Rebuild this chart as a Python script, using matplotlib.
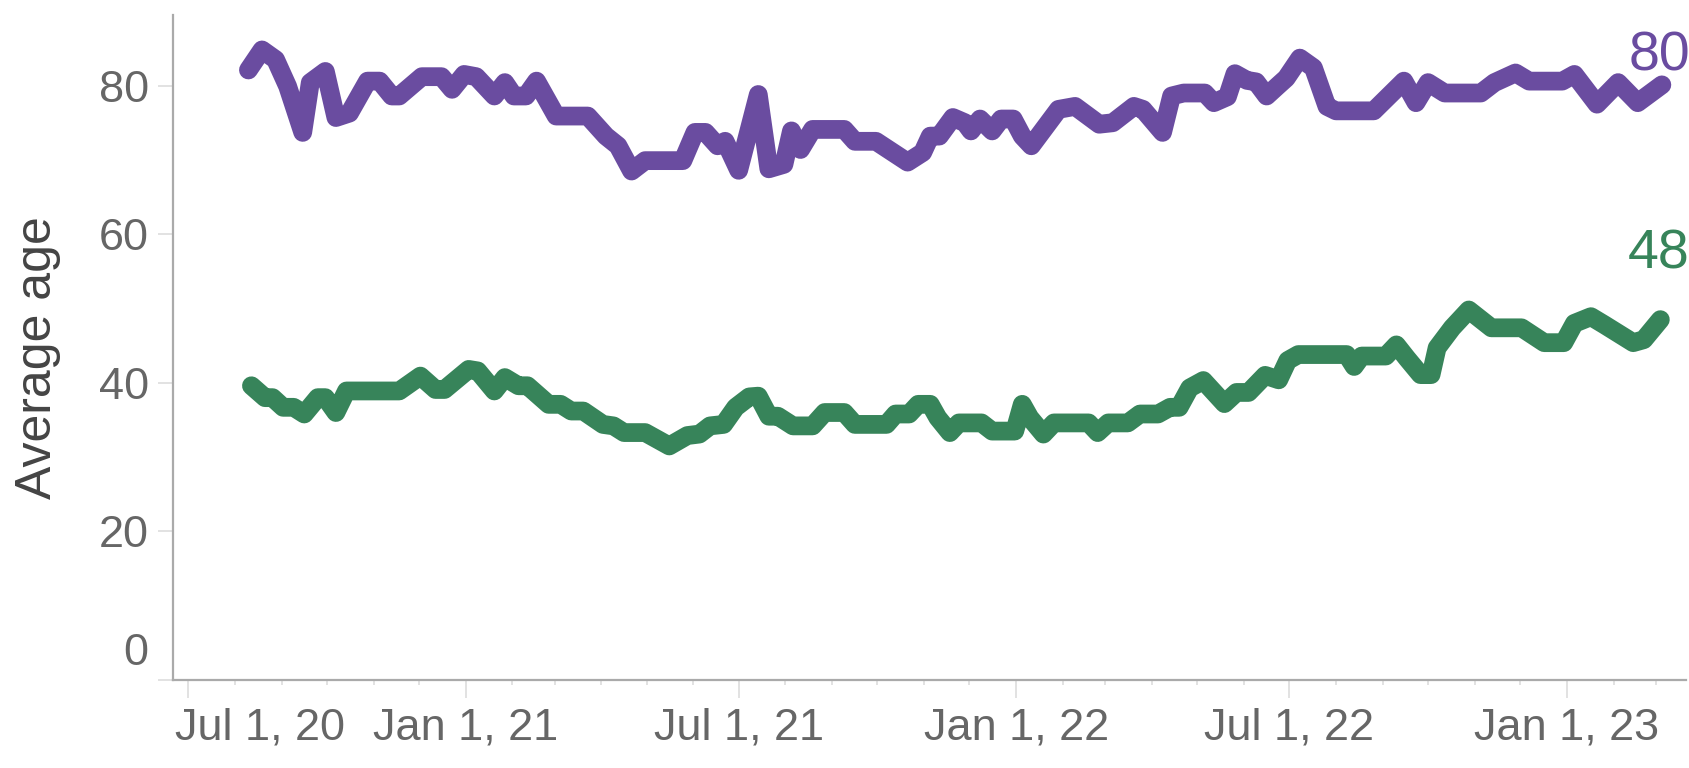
import matplotlib
matplotlib.use("Agg")
import matplotlib.pyplot as plt
import matplotlib.dates as mdates
import matplotlib.transforms as mtransforms
from matplotlib import font_manager
import pandas as pd

# ---------------- data ----------------
purple_dates = [
    "2020-08-10", "2020-08-19", "2020-08-28", "2020-09-05", "2020-09-15", "2020-09-20",
    "2020-09-30", "2020-10-07", "2020-10-16", "2020-10-28", "2020-11-05", "2020-11-13",
    "2020-11-18", "2020-12-03", "2020-12-16", "2020-12-23", "2020-12-31", "2021-01-08",
    "2021-01-20", "2021-01-27", "2021-02-02", "2021-02-10", "2021-02-17", "2021-03-02",
    "2021-03-23", "2021-04-04", "2021-04-12", "2021-04-21", "2021-04-30", "2021-05-25",
    "2021-06-02", "2021-06-09", "2021-06-17", "2021-06-22", "2021-07-01", "2021-07-14",
    "2021-07-21", "2021-07-31", "2021-08-05", "2021-08-11", "2021-08-19", "2021-09-09",
    "2021-09-16", "2021-09-30", "2021-10-21", "2021-10-31", "2021-11-05", "2021-11-11",
    "2021-11-20", "2021-11-28", "2021-12-02", "2021-12-08", "2021-12-16", "2021-12-22",
    "2021-12-30", "2022-01-05", "2022-01-11", "2022-01-29", "2022-02-09", "2022-02-25",
    "2022-03-06", "2022-03-20", "2022-03-26", "2022-04-08", "2022-04-14", "2022-04-22",
    "2022-05-06", "2022-05-12", "2022-05-21", "2022-05-26", "2022-06-03", "2022-06-09",
    "2022-06-16", "2022-06-23", "2022-06-29", "2022-07-08", "2022-07-17", "2022-07-26",
    "2022-08-01", "2022-08-26", "2022-09-15", "2022-09-23", "2022-10-01", "2022-10-12",
    "2022-11-05", "2022-11-14", "2022-11-28", "2022-12-07", "2022-12-29", "2023-01-06",
    "2023-01-21", "2023-02-04", "2023-02-17", "2023-03-05",
]
purple_values = [
    82.1, 84.8, 83.5, 79.9, 73.7, 80.4,
    81.9, 75.7, 76.3, 80.6, 80.6, 78.6,
    78.6, 81.2, 81.2, 79.5, 81.5, 81.2,
    78.6, 80.4, 78.6, 78.6, 80.6, 75.9,
    75.9, 73.2, 71.9, 68.5, 69.9, 69.9,
    73.7, 73.7, 71.9, 72.5, 68.6, 78.8,
    68.8, 69.4, 73.9, 71.4, 74.1, 74.1,
    72.5, 72.5, 69.7, 71.0, 73.2, 73.2,
    75.7, 75.0, 73.9, 75.5, 73.9, 75.5,
    75.5, 73.2, 71.9, 76.8, 77.2, 74.8,
    75.0, 77.2, 76.8, 73.7, 78.6, 79.0,
    79.0, 77.7, 78.5, 81.6, 80.7, 80.5,
    78.6, 79.9, 81.0, 83.7, 82.4, 77.2,
    76.6, 76.6, 80.6, 77.7, 80.4, 79.0,
    79.0, 80.4, 81.7, 80.6, 80.6, 81.5,
    77.5, 80.4, 77.7, 80.1,
]

green_dates = [
    "2020-08-12", "2020-08-21", "2020-08-26", "2020-09-02", "2020-09-09", "2020-09-16",
    "2020-09-25", "2020-09-30", "2020-10-07", "2020-10-14", "2020-11-18", "2020-12-02",
    "2020-12-12", "2020-12-18", "2021-01-03", "2021-01-09", "2021-01-20", "2021-01-27",
    "2021-02-05", "2021-02-11", "2021-02-25", "2021-03-05", "2021-03-12", "2021-03-20",
    "2021-04-02", "2021-04-09", "2021-04-16", "2021-04-30", "2021-05-16", "2021-05-28",
    "2021-06-05", "2021-06-12", "2021-06-21", "2021-06-29", "2021-07-08", "2021-07-14",
    "2021-07-21", "2021-07-27", "2021-08-06", "2021-08-19", "2021-08-27", "2021-09-09",
    "2021-09-16", "2021-10-07", "2021-10-13", "2021-10-22", "2021-10-28", "2021-11-05",
    "2021-11-10", "2021-11-18", "2021-11-24", "2021-12-09", "2021-12-16", "2021-12-31",
    "2022-01-05", "2022-01-10", "2022-01-19", "2022-01-26", "2022-02-18", "2022-02-24",
    "2022-03-03", "2022-03-16", "2022-03-24", "2022-04-05", "2022-04-13", "2022-04-19",
    "2022-04-26", "2022-05-05", "2022-05-19", "2022-05-27", "2022-06-04", "2022-06-15",
    "2022-06-24", "2022-06-30", "2022-07-07", "2022-08-08", "2022-08-13", "2022-08-18",
    "2022-09-03", "2022-09-10", "2022-09-17", "2022-09-26", "2022-10-03", "2022-10-07",
    "2022-10-17", "2022-10-28", "2022-11-12", "2022-12-02", "2022-12-17", "2022-12-30",
    "2023-01-06", "2023-01-17", "2023-01-26", "2023-02-14", "2023-02-21", "2023-03-04",
]
green_values = [
    39.6, 38.0, 38.0, 36.7, 36.7, 35.8,
    38.0, 38.0, 36.0, 38.9, 38.9, 40.9,
    39.1, 39.1, 41.8, 41.6, 38.9, 40.7,
    39.6, 39.6, 37.1, 37.1, 36.2, 36.2,
    34.4, 34.2, 33.3, 33.3, 31.5, 32.9,
    33.1, 34.2, 34.4, 36.7, 38.1, 38.2,
    35.5, 35.5, 34.2, 34.2, 36.0, 36.0,
    34.4, 34.4, 35.8, 35.8, 37.1, 37.1,
    35.3, 33.3, 34.6, 34.6, 33.5, 33.5,
    37.1, 35.3, 33.1, 34.6, 34.6, 33.3,
    34.6, 34.6, 35.8, 35.8, 36.7, 36.7,
    39.3, 40.3, 37.2, 38.7, 38.7, 41.0,
    40.4, 43.0, 43.8, 43.8, 42.2, 43.6,
    43.6, 45.1, 43.3, 41.1, 41.1, 44.7,
    47.4, 49.8, 47.4, 47.4, 45.4, 45.4,
    48.0, 48.9, 47.8, 45.4, 45.8, 48.5,
]

purple_label = "80"
green_label = "48"
y_label = "Average age"
y_ticks = [0, 20, 40, 60, 80]
x_tick_dates = ["2020-07-01", "2021-01-01", "2021-07-01", "2022-01-01", "2022-07-01", "2023-01-01"]
x_tick_labels = ["Jul 1, 20", "Jan 1, 21", "Jul 1, 21", "Jan 1, 22", "Jul 1, 22", "Jan 1, 23"]
x_start, x_end = "2020-06-21", "2023-03-21"

# ---------------- style ----------------
PURPLE = "#6a4ca0"
GREEN = "#37845a"
TICK_TEXT = "#666666"
AXIS_COLOR = "#aaaaaa"
TICK_COLOR = "#dddddd"

names = {f.name for f in font_manager.fontManager.ttflist}
base_font = "Liberation Sans" if "Liberation Sans" in names else "DejaVu Sans"
narrow_font = "Liberation Sans Narrow" if "Liberation Sans Narrow" in names else base_font
narrow_available = narrow_font != base_font
plt.rcParams["font.family"] = [base_font, "DejaVu Sans"]

W, H, DPI = 1690, 768, 100
fig = plt.figure(figsize=(W / DPI, H / DPI), dpi=DPI)
ax_left, ax_right, ax_top, ax_bottom = 173, 1686, 15, 680
ax = fig.add_axes([ax_left / W, (H - ax_bottom) / H,
                   (ax_right - ax_left) / W, (ax_bottom - ax_top) / H])

pdates = pd.to_datetime(purple_dates)
gdates = pd.to_datetime(green_dates)
line_kw = dict(lw=13.5, solid_capstyle="round", solid_joinstyle="round", zorder=3)
ax.plot(pdates, purple_values, color=PURPLE, **line_kw)
ax.plot(gdates, green_values, color=GREEN, **line_kw)

ax.set_xlim(pd.Timestamp(x_start), pd.Timestamp(x_end))
ax.set_ylim(0, 89.5)

for side in ("top", "right"):
    ax.spines[side].set_visible(False)
for side in ("left", "bottom"):
    ax.spines[side].set_color(AXIS_COLOR)
    ax.spines[side].set_linewidth(1.6)

tick_size = 38 if narrow_available else 32.5
tick_family = [narrow_font, "DejaVu Sans"]

ax.set_yticks(y_ticks)
ax.set_yticklabels([str(v) for v in y_ticks], family=tick_family)
ax.set_xticks(pd.to_datetime(x_tick_dates))
ax.set_xticklabels(x_tick_labels, family=tick_family)
ax.xaxis.set_minor_locator(mdates.MonthLocator())

ax.tick_params(axis="both", which="both", colors=TICK_COLOR, labelcolor=TICK_TEXT)
ax.tick_params(axis="x", which="major", length=13, width=1.2, pad=7, labelsize=tick_size)
ax.tick_params(axis="x", which="minor", length=3.6, width=1.2)
ax.tick_params(axis="y", which="major", length=10.5, width=1.2, pad=7, labelsize=tick_size)

ax.set_ylabel(y_label, fontsize=36, color="#444444", family=[base_font, "DejaVu Sans"])
ax.yaxis.label.set_va("center")
ax.yaxis.set_label_coords((38 - ax_left) / (ax_right - ax_left), (ax_bottom - 358) / (ax_bottom - ax_top))

end_size = 45 if narrow_available else 40
ax.annotate(purple_label, xy=(pdates[-1], purple_values[-1]), xytext=(-2, 28),
            textcoords="offset pixels", ha="center", va="center", color=PURPLE,
            fontsize=end_size, family=tick_family, annotation_clip=False, zorder=4)
ax.annotate(green_label, xy=(gdates[-1], green_values[-1]), xytext=(-2, 65),
            textcoords="offset pixels", ha="center", va="center", color=GREEN,
            fontsize=end_size, family=tick_family, annotation_clip=False, zorder=4)

# flush the first labels of each axis (as in the source chart)
fig.canvas.draw()
first_x = ax.xaxis.get_major_ticks()[0].label1
first_x.set_ha("left")
first_x.set_transform(first_x.get_transform() +
                      mtransforms.ScaledTranslation(-13 / DPI, 0, fig.dpi_scale_trans))
first_y = ax.yaxis.get_major_ticks()[0].label1
first_y.set_va("bottom")
first_y.set_transform(first_y.get_transform() +
                      mtransforms.ScaledTranslation(0, 6 / DPI, fig.dpi_scale_trans))

fig.savefig("out.png", dpi=DPI, facecolor="white")
